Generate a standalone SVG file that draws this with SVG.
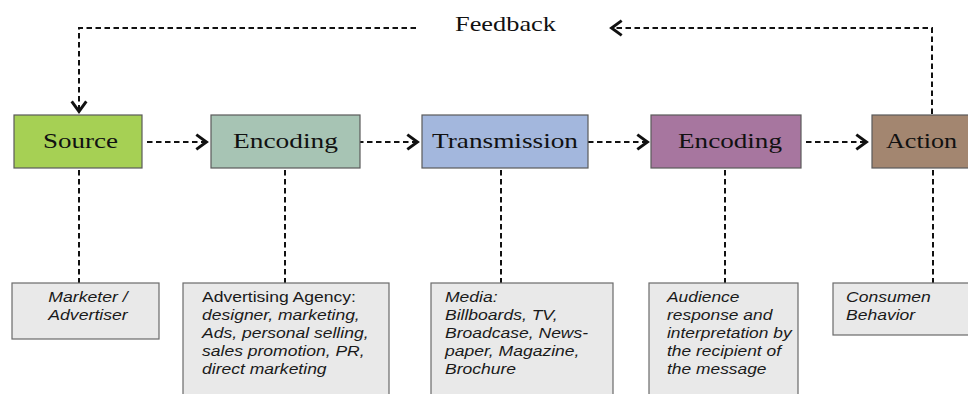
<svg xmlns="http://www.w3.org/2000/svg" width="968" height="394" viewBox="0 0 968 394">
<style>
.box{stroke:#5a5a5a;stroke-width:1.2}
.lbl{font-family:"Liberation Serif","Times New Roman",serif;font-size:22px;fill:#111}
.note rect{fill:#e9e9e9;stroke:#6a6a6a;stroke-width:1.2}
.nt{font-family:"Liberation Sans",Arial,sans-serif;font-size:13.8px;fill:#1a1a1a;font-style:italic}
.up{font-style:normal}
.con{fill:none;stroke:#111;stroke-width:2;stroke-dasharray:5.5 3.5}
</style>
<defs>
<marker id="chev" markerUnits="userSpaceOnUse" markerWidth="14" markerHeight="18" viewBox="-1 -8 12 16" refX="9.5" refY="0" orient="auto">
<path d="M0,-6.5 L9,0 L0,6.5" fill="none" stroke="#111" stroke-width="2.6"/>
</marker>
</defs>
<rect width="968" height="394" fill="#ffffff"/>

<g id="connectors">
<path class="con" d="M147,142 H207" marker-end="url(#chev)"/>
<path class="con" d="M358,142 H418" marker-end="url(#chev)"/>
<path class="con" d="M588,142 H648" marker-end="url(#chev)"/>
<path class="con" d="M806,142 H867" marker-end="url(#chev)"/>
<path class="con" d="M932,114 V28 H611" marker-end="url(#chev)"/>
<path class="con" d="M416,28 H79 V112" marker-end="url(#chev)"/>
<path class="con" d="M79,170 V283"/>
<path class="con" d="M285,170 V283"/>
<path class="con" d="M501,170 V283"/>
<path class="con" d="M725,170 V283"/>
<path class="con" d="M933,170 V283"/>
<text class="lbl" x="455" y="31" textLength="101" lengthAdjust="spacingAndGlyphs">Feedback</text>
</g>

<g id="source">
<rect class="box" x="14" y="115" width="128" height="53" fill="#a6d054"/>
<text class="lbl" x="43" y="148" textLength="75" lengthAdjust="spacingAndGlyphs">Source</text>
</g>
<g id="encoding1">
<rect class="box" x="211" y="115" width="149" height="53" fill="#a7c4b4"/>
<text class="lbl" x="233" y="148" textLength="105" lengthAdjust="spacingAndGlyphs">Encoding</text>
</g>
<g id="transmission">
<rect class="box" x="422" y="115" width="166" height="53" fill="#a3b7dd"/>
<text class="lbl" x="432" y="148" textLength="146" lengthAdjust="spacingAndGlyphs">Transmission</text>
</g>
<g id="encoding2">
<rect class="box" x="651" y="115" width="150" height="53" fill="#a7769f"/>
<text class="lbl" x="678" y="148" textLength="104" lengthAdjust="spacingAndGlyphs">Encoding</text>
</g>
<g id="action">
<rect class="box" x="872" y="115" width="110" height="53" fill="#a38670"/>
<text class="lbl" x="886" y="148" textLength="71" lengthAdjust="spacingAndGlyphs">Action</text>
</g>

<g id="note-source" class="note">
<rect x="12" y="283" width="147" height="56"/>
<text class="nt" transform="translate(88,0) scale(1.28,1)" text-anchor="middle"><tspan x="0" y="302">Marketer /</tspan><tspan x="0" y="320">Advertiser</tspan></text>
</g>
<g id="note-encoding1" class="note">
<rect x="183" y="283" width="206" height="120"/>
<text class="nt" transform="translate(202,0) scale(1.27,1)"><tspan class="up" x="0" y="302">Advertising Agency:</tspan><tspan x="0" y="320">designer, marketing,</tspan><tspan x="0" y="338">Ads, personal selling,</tspan><tspan x="0" y="356">sales promotion, PR,</tspan><tspan x="0" y="374">direct marketing</tspan></text>
</g>
<g id="note-transmission" class="note">
<rect x="431" y="283" width="182" height="120"/>
<text class="nt" transform="translate(445,0) scale(1.27,1)"><tspan x="0" y="302">Media:</tspan><tspan x="0" y="320">Billboards, TV,</tspan><tspan x="0" y="338">Broadcase, News-</tspan><tspan x="0" y="356">paper, Magazine,</tspan><tspan x="0" y="374">Brochure</tspan></text>
</g>
<g id="note-encoding2" class="note">
<rect x="649" y="283" width="149" height="120"/>
<text class="nt" transform="translate(667,0) scale(1.26,1)"><tspan x="0" y="302">Audience</tspan><tspan x="0" y="320">response and</tspan><tspan x="0" y="338">interpretation by</tspan><tspan x="0" y="356">the recipient of</tspan><tspan x="0" y="374">the message</tspan></text>
</g>
<g id="note-action" class="note">
<rect x="833" y="283" width="150" height="52"/>
<text class="nt" transform="translate(846,0) scale(1.27,1)"><tspan x="0" y="302">Consumen</tspan><tspan x="0" y="320">Behavior</tspan></text>
</g>
</svg>
